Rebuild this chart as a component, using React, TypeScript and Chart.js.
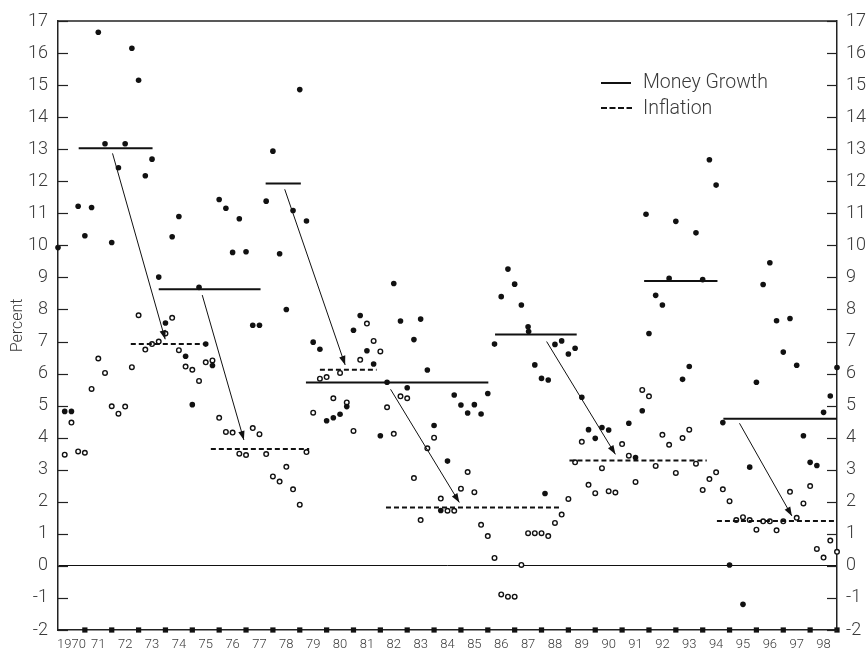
import React, { useEffect, useRef } from 'react';
import { Chart, registerables } from 'chart.js';

Chart.register(...registerables);

// ---- data (quarterly, first quarter plotted at 1970.0) ----
const START_YEAR = 1970;

const moneyGrowth: (number | null)[] = [
  9.93, 4.82, 4.82, 11.22, 10.3, 11.18, 16.65, 13.17, 10.09, 12.42,
  13.17, 16.15, 15.15, 12.17, 12.69, 9.01, 7.58, 10.27, 10.9, 6.54,
  5.03, 8.69, 6.92, 6.25, 11.43, 11.16, 9.78, 10.83, 9.8, 7.51,
  7.51, 11.38, 12.94, 9.74, 8.0, 11.09, 14.86, 10.76, 6.98, 6.76,
  4.53, 4.62, 4.73, 4.97, 7.35, 7.81, 6.71, 6.3, 4.06, 5.73,
  8.81, 7.64, 5.56, 7.06, 7.7, 6.11, 4.38, 1.73, 3.27, 5.33,
  5.02, 4.77, 5.03, 4.74, 5.38, 6.92, 8.4, 9.26, 8.79, 8.14,
  7.46, 6.27, 5.85, 5.8, 6.91, 7.02, 6.61, 6.79, 5.26, 4.25,
  3.98, 4.32, 4.24, null, null, 4.45, 3.38, 4.84, 7.25, 8.44,
  8.14, 8.97, 10.75, 5.82, 6.22, 10.39, 8.93, 12.67, 11.88, 4.47,
  0.03, null, -1.2, 3.08, 5.73, 8.78, 9.46, 7.65, 6.67, 7.72,
  6.26, 4.06, 3.23, 3.13, 4.79, 5.3, 6.19,
];

const inflation: (number | null)[] = [
  null, 3.47, 4.47, 3.57, 3.53, 5.52, 6.47, 6.02, 4.98, 4.75,
  4.97, 6.2, 7.82, 6.75, 6.92, 7.0, 7.25, 7.74, 6.73, 6.22,
  6.12, 5.77, 6.35, 6.41, 4.62, 4.18, 4.16, 3.5, 3.46, 4.3,
  4.11, 3.49, 2.79, 2.63, 3.09, 2.39, 1.91, 3.55, 4.78, 5.84,
  5.89, 5.23, 6.02, 5.1, 4.21, 6.43, 7.56, 7.02, 6.69, 4.95,
  4.12, 5.29, 5.23, 2.74, 1.43, 3.67, 4.0, 2.1, 1.72, 1.72,
  2.41, 2.93, 2.3, 1.28, 0.93, 0.25, -0.89, -0.96, -0.96, 0.03,
  1.02, 1.02, 1.02, 0.93, 1.34, 1.6, 2.09, 3.23, 3.87, 2.53,
  2.27, 3.05, 2.33, 2.29, 3.8, 3.44, 2.62, 5.49, 5.29, 3.12,
  4.09, 3.78, 2.9, 3.99, 4.25, 3.19, 2.37, 2.71, 2.92, 2.39,
  2.02, 1.43, 1.52, 1.43, 1.13, 1.39, 1.39, 1.11, 1.39, 2.31,
  1.5, 1.95, 2.49, 0.53, 0.26, 0.79, 0.44,
];

// stray money-growth dots that sit off the quarterly grid
const extraMoneyYears = [1987.52, 1988.13, 1991.89];
const extraMoneyValues = [7.31, 2.26, 10.97];

// period averages
const moneyAvgStart = [1970.77, 1973.75, 1977.73, 1979.23, 1986.27, 1991.82, 1994.77];
const moneyAvgEnd = [1973.52, 1977.54, 1979.04, 1986.02, 1989.31, 1994.55, 1999.0];
const moneyAvgValue = [13.03, 8.63, 11.93, 5.72, 7.22, 8.89, 4.59];

const inflAvgStart = [1972.71, 1975.69, 1979.75, 1982.21, 1989.04, 1994.53];
const inflAvgEnd = [1975.53, 1979.35, 1981.86, 1988.66, 1994.15, 1999.0];
const inflAvgValue = [6.92, 3.65, 6.12, 1.82, 3.29, 1.4];

// arrows from money-growth average to later inflation average
const arrowStartYear = [1972.03, 1975.37, 1978.44, 1982.38, 1988.19, 1995.37];
const arrowStartValue = [12.87, 8.45, 11.75, 5.51, 7.0, 4.45];
const arrowEndYear = [1973.99, 1976.92, 1980.69, 1984.94, 1990.75, 1997.32];
const arrowEndValue = [7.07, 3.93, 6.27, 1.98, 3.48, 1.56];

const yearTickLabels = [
  '1970', '71', '72', '73', '74', '75', '76', '77', '78', '79',
  '80', '81', '82', '83', '84', '85', '86', '87', '88', '89',
  '90', '91', '92', '93', '94', '95', '96', '97', '98',
];

const Y_MIN = -2;
const Y_MAX = 17;

const INK = '#111';
const TEXT = '#3a3a3a';
const FONT = "Roboto, 'Liberation Sans', Arial, sans-serif";

const quarterPoints = (vals: (number | null)[]) =>
  vals
    .map((v, i) => (v === null ? null : { x: START_YEAR + i / 4, y: v }))
    .filter((p) => p !== null) as { x: number; y: number }[];

const decorPlugin = {
  id: 'decor',
  afterDatasetsDraw(chart: any) {
    const ctx = chart.ctx as CanvasRenderingContext2D;
    chart.data.datasets.forEach((ds: any, i: number) => {
      if (!ds.isArrow) return;
      const meta = chart.getDatasetMeta(i);
      const p0 = meta.data[0];
      const p1 = meta.data[1];
      const ang = Math.atan2(p1.y - p0.y, p1.x - p0.x);
      const len = 9;
      const half = 3.2;
      const bx = p1.x - len * Math.cos(ang);
      const by = p1.y - len * Math.sin(ang);
      ctx.save();
      ctx.fillStyle = INK;
      ctx.beginPath();
      ctx.moveTo(p1.x, p1.y);
      ctx.lineTo(bx + half * Math.sin(ang), by - half * Math.cos(ang));
      ctx.lineTo(bx - half * Math.sin(ang), by + half * Math.cos(ang));
      ctx.closePath();
      ctx.fill();
      ctx.restore();
    });
  },
  afterDraw(chart: any) {
    const ctx = chart.ctx as CanvasRenderingContext2D;
    const a = chart.chartArea;
    ctx.save();
    ctx.strokeStyle = '#222';
    ctx.lineWidth = 1.5;
    ctx.beginPath();
    ctx.moveTo(a.left, a.top);
    ctx.lineTo(a.right, a.top);
    ctx.stroke();

    ctx.lineWidth = 1.2;
    ['y', 'y2'].forEach((id) => {
      const s = chart.scales[id];
      s.ticks.forEach((t: any) => {
        const py = Math.round(s.getPixelForValue(t.value)) + 0.5;
        ctx.beginPath();
        if (id === 'y') {
          ctx.moveTo(a.left, py);
          ctx.lineTo(a.left + 10, py);
        } else {
          ctx.moveTo(a.right - 10, py);
          ctx.lineTo(a.right, py);
        }
        ctx.stroke();
      });
    });

    // legend
    const lx0 = 601;
    const lx1 = 631;
    const tx = 643;
    const y1 = 83;
    const y2 = 108;
    ctx.strokeStyle = INK;
    ctx.lineWidth = 2;
    ctx.beginPath();
    ctx.moveTo(lx0, y1);
    ctx.lineTo(lx1, y1);
    ctx.stroke();
    ctx.setLineDash([6, 2.5]);
    ctx.beginPath();
    ctx.moveTo(lx0, y2);
    ctx.lineTo(lx1 + 1, y2);
    ctx.stroke();
    ctx.setLineDash([]);
    ctx.fillStyle = TEXT;
    ctx.font = `300 19.5px ${FONT}`;
    ctx.textAlign = 'left';
    ctx.textBaseline = 'middle';
    ctx.fillText('Money Growth', tx, y1);
    ctx.fillText('Inflation', tx, y2 + 1);
    ctx.restore();
  },
};

export default function App() {
  const ref = useRef<HTMLCanvasElement | null>(null);

  useEffect(() => {
    if (!ref.current) return;

    const moneyAvgSets = moneyAvgValue.map((v, i) => ({
      data: [
        { x: moneyAvgStart[i], y: v },
        { x: moneyAvgEnd[i], y: v },
      ],
      showLine: true,
      borderColor: INK,
      borderWidth: 2,
      pointRadius: 0,
      order: 0,
    }));
    const inflAvgSets = inflAvgValue.map((v, i) => ({
      data: [
        { x: inflAvgStart[i], y: v },
        { x: inflAvgEnd[i], y: v },
      ],
      showLine: true,
      borderColor: INK,
      borderWidth: 2,
      borderDash: [5, 3],
      pointRadius: 0,
      order: 0,
    }));
    const arrowSets = arrowStartYear.map((sx, i) => ({
      data: [
        { x: sx, y: arrowStartValue[i] },
        { x: arrowEndYear[i], y: arrowEndValue[i] },
      ],
      showLine: true,
      borderColor: INK,
      borderWidth: 1,
      pointRadius: 0,
      order: 0,
      isArrow: true,
    }));

    const yearMarks = yearTickLabels.map((_, i) => ({ x: START_YEAR + i + 1, y: Y_MIN }));

    const chart = new Chart(ref.current, {
      type: 'scatter',
      data: {
        datasets: [
          ...moneyAvgSets,
          ...inflAvgSets,
          ...arrowSets,
          {
            data: quarterPoints(moneyGrowth),
            pointRadius: 2.8,
            pointBackgroundColor: INK,
            pointBorderWidth: 0,
            order: 1,
            clip: false,
          },
          {
            data: extraMoneyYears.map((x, i) => ({ x, y: extraMoneyValues[i] })),
            pointRadius: 2.8,
            pointBackgroundColor: INK,
            pointBorderWidth: 0,
            order: 1,
            clip: false,
          },
          {
            data: quarterPoints(inflation),
            pointRadius: 2.3,
            pointBackgroundColor: '#fff',
            pointBorderColor: INK,
            pointBorderWidth: 1.4,
            order: 1,
            clip: false,
          },
          {
            data: yearMarks,
            pointStyle: 'rect',
            pointRadius: 3.7,
            pointBackgroundColor: INK,
            pointBorderWidth: 0,
            order: 1,
            clip: false,
          },
        ] as any,
      },
      options: {
        animation: false,
        responsive: false,
        events: [],
        layout: { padding: { top: 21, left: 0, right: 0, bottom: 0 } },
        plugins: {
          legend: { display: false },
          tooltip: { enabled: false },
        },
        scales: {
          x: {
            type: 'linear',
            min: START_YEAR,
            max: START_YEAR + yearTickLabels.length,
            position: 'bottom',
            afterBuildTicks: (scale: any) => {
              scale.ticks = yearTickLabels.map((_, i) => ({ value: START_YEAR + i + 0.5 }));
            },
            afterFit: (scale: any) => {
              scale.height = 23;
            },
            ticks: {
              autoSkip: false,
              maxRotation: 0,
              minRotation: 0,
              padding: 7,
              color: TEXT,
              font: { family: FONT, size: 13, weight: '300' as any },
              callback: (_v: any, index: number) => yearTickLabels[index],
            },
            grid: { display: false, drawTicks: false },
            border: { display: true, color: '#222', width: 1.5 },
          },
          y: {
            type: 'linear',
            position: 'left',
            min: Y_MIN,
            max: Y_MAX,
            afterFit: (scale: any) => {
              scale.width = 58;
            },
            ticks: {
              stepSize: 1,
              padding: 10,
              color: TEXT,
              font: { family: FONT, size: 18, weight: '300' as any },
            },
            title: {
              display: true,
              text: 'Percent',
              color: TEXT,
              padding: { top: 8, bottom: 0 },
              font: { family: FONT, size: 16, weight: '300' as any },
            },
            grid: {
              drawTicks: false,
              lineWidth: 1,
              color: (c: any) => (c.tick && c.tick.value === 0 ? INK : 'rgba(0,0,0,0)'),
            },
            border: { display: true, color: '#222', width: 1.5 },
          },
          y2: {
            type: 'linear',
            position: 'right',
            min: Y_MIN,
            max: Y_MAX,
            afterFit: (scale: any) => {
              scale.width = 30;
            },
            ticks: {
              stepSize: 1,
              padding: 9,
              color: TEXT,
              font: { family: FONT, size: 18, weight: '300' as any },
            },
            grid: { display: false, drawTicks: false },
            border: { display: true, color: '#222', width: 1.5 },
          },
        },
      } as any,
      plugins: [decorPlugin as any],
    });

    return () => chart.destroy();
  }, []);

  return (
    <div style={{ position: 'fixed', left: 0, top: 0, width: 867, height: 653, background: '#fff' }}>
      <canvas ref={ref} width={867} height={653} style={{ width: 867, height: 653, display: 'block' }} />
    </div>
  );
}
